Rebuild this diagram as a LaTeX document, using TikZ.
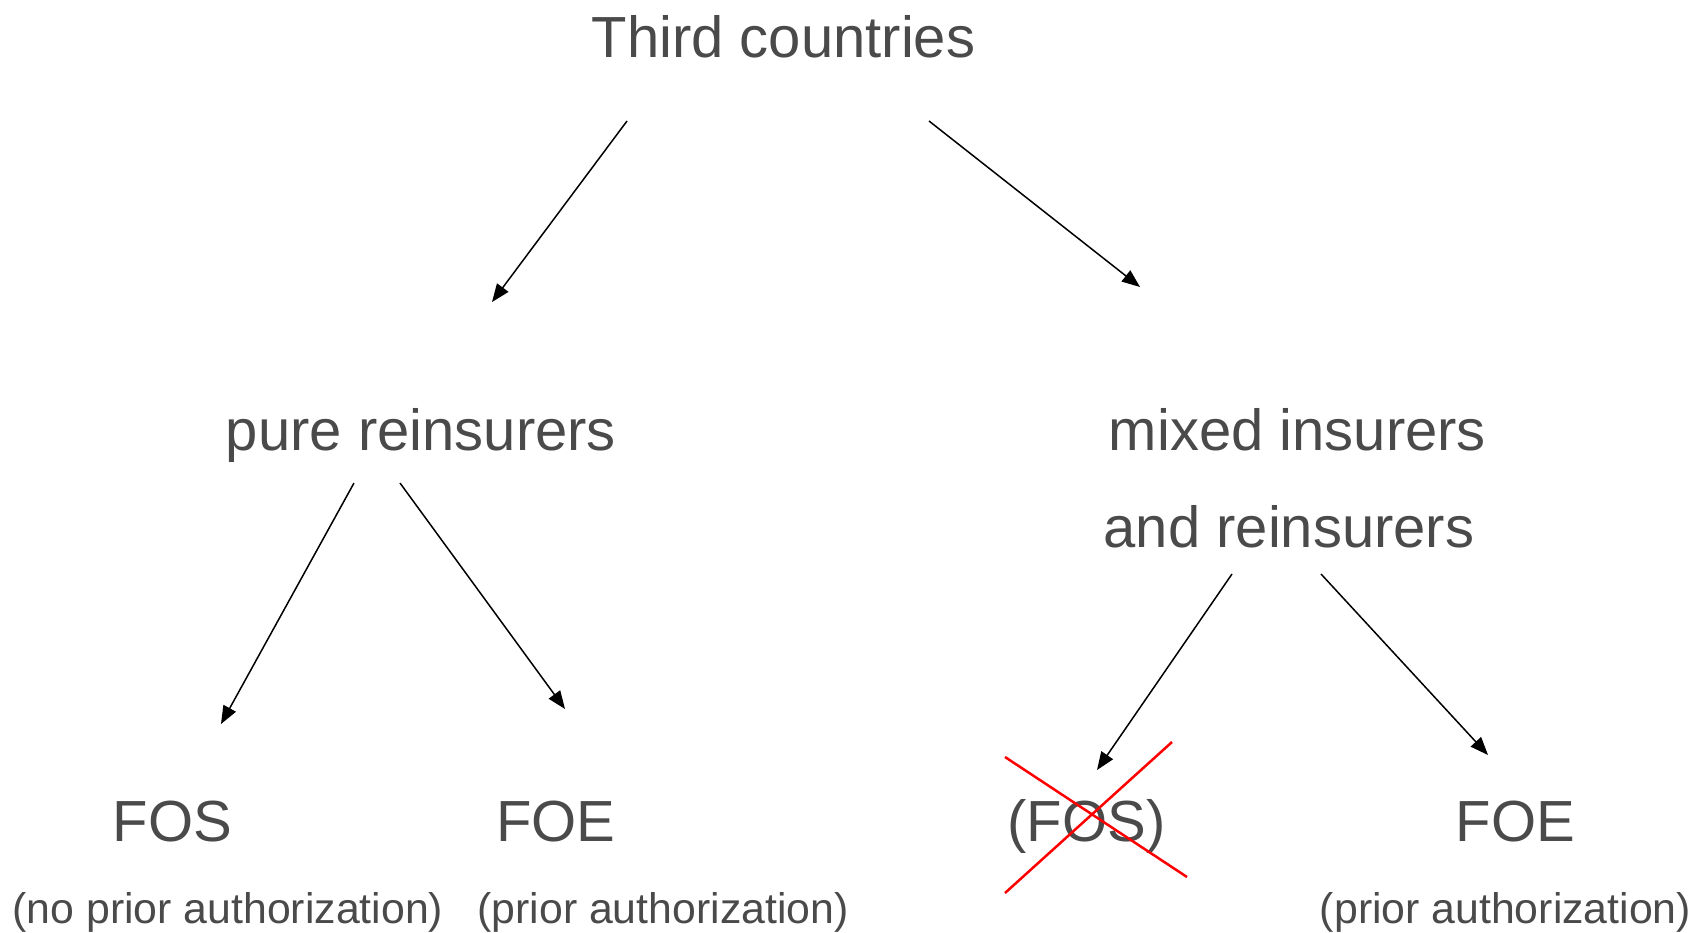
\documentclass[tikz,border=0pt]{standalone}
\usepackage{fontspec}
\setmainfont{Liberation Sans}
\usetikzlibrary{arrows.meta}
\definecolor{txt}{HTML}{4A4A4A}
\tikzset{
  big/.style={anchor=base, inner sep=0pt, text=txt, font=\fontsize{58}{66}\selectfont},
  small/.style={anchor=base, inner sep=0pt, text=txt, font=\fontsize{42.8}{50}\selectfont},
  arr/.style={draw=black, line width=1.5pt, -{Triangle[length=18pt,width=14pt]}},
  cross/.style={draw=red, line width=2.5pt}
}
\begin{document}
\begin{tikzpicture}[x=1pt,y=-1pt]
\useasboundingbox (0,0) rectangle (1705,932);
% texts
\node[big] (third) at (783.5,57) {Third countries};
\node[big] (pure) at (421,450) {pure reinsurers};
\node[big] (mixed) at (1297.5,450) {mixed insurers};
\node[big] (mixedb) at (1289,547) {and reinsurers};
\node[big] (fosl) at (172.5,841) {FOS};
\node[big] (foel) at (556,841) {FOE};
\node[big] (fosr) at (1086.5,841) {(FOS)};
\node[big] (foer) at (1515.5,841) {FOE};
\node[small] (nopa) at (228,923) {(no prior authorization)};
\node[small] (pal) at (663,923) {(prior authorization)};
\node[small] (par) at (1505.5,923) {(prior authorization)};
% connector end points
\coordinate (t1) at (627,121);  \coordinate (p1) at (492,302);
\coordinate (t2) at (929,121);  \coordinate (m1) at (1140,287);
\coordinate (p2) at (354,483);  \coordinate (fl) at (221,724);
\coordinate (p3) at (400,483);  \coordinate (el) at (565,709);
\coordinate (m2) at (1232,574); \coordinate (fr) at (1097,770);
\coordinate (m3) at (1321,574); \coordinate (er) at (1488,755);
\draw[arr] (t1) -- (p1);
\draw[arr] (t2) -- (m1);
\draw[arr] (p2) -- (fl);
\draw[arr] (p3) -- (el);
\draw[arr] (m2) -- (fr);
\draw[arr] (m3) -- (er);
% red cross over (FOS)
\coordinate (c1) at (1005,757); \coordinate (c2) at (1187,877);
\coordinate (c3) at (1005,893); \coordinate (c4) at (1172,742);
\draw[cross] (c1) -- (c2);
\draw[cross] (c3) -- (c4);
\end{tikzpicture}
\end{document}
